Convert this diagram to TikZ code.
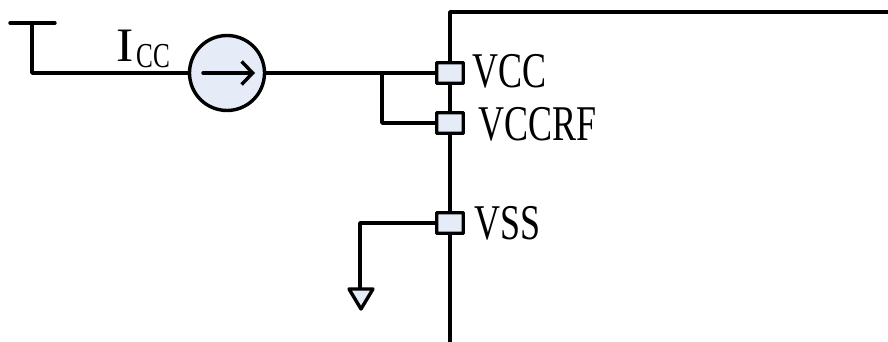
\documentclass[tikz,border=0pt]{standalone}
\usepackage{fontspec}
\newfontfamily\narrowserif[FakeStretch=0.72]{Liberation Serif}
\usetikzlibrary{arrows.meta}
\definecolor{padfill}{RGB}{230,236,247}
\tikzset{
  wire/.style={line width=3.4pt, line join=round, line cap=round},
  padbox/.style={draw, line width=3.4pt, fill=padfill, minimum width=26.5pt, minimum height=20.5pt, inner sep=0pt, rounded corners=0.5pt},
  meter/.style={draw, circle, line width=3.4pt, fill=padfill, minimum size=75pt, inner sep=0pt},
  pinlabel/.style={anchor=base west, inner sep=0pt, font=\narrowserif\fontsize{50pt}{50pt}\selectfont},
  tri/.style={draw, line width=3.4pt, fill=padfill, line join=round}
}
\begin{document}
\begin{tikzpicture}[x=1pt,y=-1pt]
\useasboundingbox (0,0) rectangle (888,342);
% chip outline
\coordinate (chipTop) at (450,12);
\coordinate (chipEnd) at (450,342);
\coordinate (chipRight) at (888,12);
\draw[wire, line cap=butt] (chipEnd) -- (chipTop) -- (chipRight);
% pads
\node[padbox] (vcc) at (450,73) {};
\node[padbox] (vccrf) at (450,123) {};
\node[padbox] (vss) at (450,223) {};
% meter
\node[meter] (src) at (227,73) {};
\coordinate (arrL) at (203,73);
\coordinate (arrR) at (255,73);
\draw[wire, -{Straight Barb[length=11pt,width=23pt,line width=3.4pt]}] (arrL) -- (arrR);
% supply
\coordinate (railL) at (10,23);
\coordinate (railR) at (55,23);
\coordinate (railM) at (32,23);
\coordinate (railC) at (32,73);
\draw[wire] (railL) -- (railR);
\draw[wire] (railM) -- (railC) -- (src.west);
% connections
\coordinate (junc) at (382,73);
\coordinate (juncD) at (382,123);
\draw[wire] (src.east) -- (vcc.west);
\draw[wire] (junc) -- (juncD) -- (vccrf.west);
% ground
\coordinate (gndC) at (360,223);
\coordinate (gndT) at (360,289);
\draw[wire] (vss.west) -- (gndC) -- (gndT);
\draw[tri] (349,289) -- (373,289) -- (361,309) -- cycle;
% labels
\node[pinlabel] (lvcc) at (472,88) {VCC};
\node[pinlabel] (lvccrf) at (478,140) {VCCRF};
\node[pinlabel] (lvss) at (474,239.5) {VSS};
\node[pinlabel, font=\narrowserif\fontsize{48pt}{48pt}\selectfont] (li) at (116,62) {\scalebox{1.5}[1]{I}};
\node[anchor=base west, inner sep=0pt, font=\narrowserif\fontsize{35pt}{35pt}\selectfont] (lcc) at (136,68) {CC};
\end{tikzpicture}
\end{document}
